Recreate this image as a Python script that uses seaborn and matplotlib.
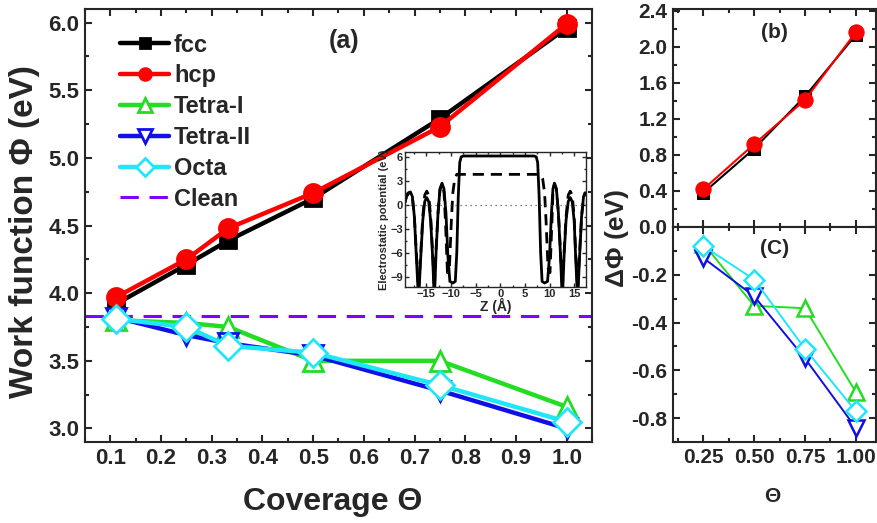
import matplotlib
matplotlib.use("Agg")
import matplotlib.pyplot as plt
import seaborn as sns
from matplotlib.ticker import MultipleLocator

# main panel (a): work function vs coverage
coverage = [0.111, 0.25, 0.333, 0.5, 0.75, 1.0]
wf_fcc = [3.92, 4.21, 4.39, 4.70, 5.29, 5.96]
wf_hcp = [3.97, 4.25, 4.48, 4.74, 5.23, 5.99]
wf_tetra1 = [3.80, 3.78, 3.75, 3.50, 3.50, 3.16]
wf_tetra2 = [3.82, 3.69, 3.63, 3.54, 3.28, 3.00]
wf_octa = [3.81, 3.75, 3.61, 3.56, 3.32, 3.05]
wf_clean = 3.83

# panels (b) and (c): change of work function
cov_sub = [0.25, 0.5, 0.75, 1.0]
d_fcc = [0.38, 0.87, 1.45, 2.13]
d_hcp = [0.42, 0.92, 1.41, 2.16]
d_tetra1 = [-0.07, -0.33, -0.34, -0.69]
d_tetra2 = [-0.13, -0.29, -0.55, -0.84]
d_octa = [-0.08, -0.22, -0.51, -0.77]

# inset: electrostatic potential along z
z_solid = [-19.3, -19.0, -18.6, -18.2, -17.8, -17.4, -17.0, -16.55, -16.1, -15.7,
           -15.3, -14.9, -14.5, -14.1, -13.7, -13.35, -13.0, -12.6, -12.2, -11.8,
           -11.4, -11.0, -10.6, -10.2, -9.6, -9.1, -8.8, -8.5, -8.2, -7.9,
           -7.5, 6.9, 7.3, 7.6, 7.9, 8.2, 8.5, 9.0, 9.6, 10.0,
           10.4, 10.7, 11.0, 11.4, 11.8, 12.2, 12.6, 12.95, 13.35, 13.8,
           14.2, 14.6, 15.0, 15.3, 15.7, 16.1, 16.5, 16.9, 17.2, 17.4]
v_solid = [0.3, 1.1, 1.5, 1.6, 1.0, -1.5, -6.5, -12, -6.5, -2.0,
           0.4, 0.9, 0.4, -2.0, -6.5, -12, -6.0, -1.0, 2.0, 2.7,
           2.0, -1.0, -6.5, -9.6, -9.8, -9.6, -6, 1, 5.3, 6.0,
           6.1, 6.1, 6.0, 5.3, 1, -6, -9.6, -9.8, -9.6, -6.5,
           -1.0, 2.0, 2.7, 2.0, -1.0, -6.0, -12, -6.5, -2.0, 0.4,
           0.9, 0.4, -2.0, -6.5, -12, -6.5, -1.5, 1.0, 1.5, 1.4]
z_dash = [-19.3, -19.0, -18.6, -18.2, -17.8, -17.4, -17.0, -16.55, -16.1, -15.7,
          -15.3, -14.9, -14.5, -14.1, -13.7, -13.35, -13.0, -12.6, -12.2, -11.8,
          -11.4, -11.1, -10.7, -10.3, -9.9, -9.6, -9.2, -8.8, 8.2, 8.6,
          9.0, 9.3, 9.7, 10.1, 10.5, 10.7, 11.0, 11.4, 11.8, 12.2,
          12.6, 12.95, 13.35, 13.8, 14.2, 14.6, 15.0, 15.3, 15.7, 16.1,
          16.5, 16.9, 17.2, 17.4]
v_dash = [0.3, 1.0, 1.4, 1.5, 0.9, -1.5, -6.0, -10.5, -6.0, -1.5,
          1.2, 1.7, 1.2, -1.5, -6.0, -10.5, -5.5, -1.0, 1.9, 2.6,
          1.6, -2.0, -8.5, -8.0, -2.0, 1.5, 3.3, 3.8, 3.8, 3.3,
          1.5, -2.0, -8.0, -8.5, -2.0, 1.6, 2.6, 1.9, -1.0, -5.5,
          -10.5, -6.0, -1.5, 1.2, 1.7, 1.2, -1.5, -6.0, -10.5, -6.0,
          -1.5, 0.9, 1.4, 1.3]

GREEN = "#22dd22"
BLUE = "#1010e6"
CYAN = "#20e6f8"
VIOLET = "#8000ff"

sns.set_style("ticks")
plt.rcParams["font.family"] = ["Liberation Sans", "DejaVu Sans"]
plt.rcParams["font.weight"] = "bold"
plt.rcParams["axes.labelweight"] = "bold"


def style_axes(ax, size, lw=1.5):
    for s in ax.spines.values():
        s.set_linewidth(lw)
        s.set_visible(True)
    ax.tick_params(which="both", direction="in", top=True, right=True,
                   labelsize=size, width=lw, pad=4)
    ax.tick_params(which="major", length=5)
    ax.tick_params(which="minor", length=3)


fig = plt.figure(figsize=(8.78, 5.23), dpi=100)
W, H = 878.0, 523.0
ax = fig.add_axes([85 / W, 1 - 442 / H, 507 / W, 433 / H])

line_kw = dict(lw=3.2, markeredgewidth=2.0)
ax.axhline(wf_clean, color=VIOLET, lw=2.2, dashes=(6, 3.5), label="Clean", zorder=1)
sns.lineplot(x=coverage, y=wf_fcc, ax=ax, color="black", marker="s", markersize=11,
             markerfacecolor="black", markeredgecolor="black", label="fcc", zorder=3, **line_kw)
sns.lineplot(x=coverage, y=wf_hcp, ax=ax, color="red", marker="o", markersize=13,
             markerfacecolor="red", markeredgecolor="red", label="hcp", zorder=4, **line_kw)
sns.lineplot(x=coverage, y=wf_tetra1, ax=ax, color=GREEN, marker="^", markersize=15,
             markerfacecolor="white", markeredgecolor=GREEN, label="Tetra-I", zorder=3, **line_kw)
sns.lineplot(x=coverage, y=wf_tetra2, ax=ax, color=BLUE, marker="v", markersize=15,
             markerfacecolor="white", markeredgecolor=BLUE, label="Tetra-II", zorder=4, **line_kw)
sns.lineplot(x=coverage, y=wf_octa, ax=ax, color=CYAN, marker="D", markersize=14,
             markerfacecolor="white", markeredgecolor=CYAN, label="Octa", zorder=5, **line_kw)

ax.set_xlim(0.05, 1.05)
ax.set_ylim(2.9, 6.1)
ax.xaxis.set_major_locator(MultipleLocator(0.1))
ax.xaxis.set_minor_locator(MultipleLocator(0.05))
ax.yaxis.set_major_locator(MultipleLocator(0.5))
ax.yaxis.set_minor_locator(MultipleLocator(0.25))
style_axes(ax, 16)
ax.set_xlabel("")
ax.set_ylabel("")
fig.text(333 / W, 1 - 502 / H, "Coverage \u0398", fontsize=23, fontweight="bold",
         ha="center", va="center")
fig.text(25 / W, 1 - 232 / H, "Work function \u03a6 (eV)", fontsize=24, fontweight="bold",
         ha="center", va="center", rotation=90)
ax.text(0.51, 0.925, "(a)", transform=ax.transAxes, fontsize=18, fontweight="bold",
        ha="center", va="center")

handles, labels = ax.get_legend_handles_labels()
order = ["fcc", "hcp", "Tetra-I", "Tetra-II", "Octa", "Clean"]
hmap = dict(zip(labels, handles))
ax.legend([hmap[k] for k in order], order, loc="upper left", bbox_to_anchor=(0.05, 0.965),
          frameon=False, fontsize=17, handlelength=2.1, handletextpad=0.2,
          labelspacing=0.33, markerscale=0.65, borderaxespad=0)

# inset
ins = fig.add_axes([405 / W, 1 - 287 / H, 181 / W, 135 / H])
ins.plot(z_solid, v_solid, color="black", lw=2.0)
ins.plot(z_dash, v_dash, color="black", lw=2.0, dashes=(4, 2.5))
ins.axhline(0, color="#555555", lw=0.9, ls=(0, (1, 3)))
ins.set_xlim(-19.3, 17.4)
ins.set_ylim(-10.3, 6.6)
ins.xaxis.set_major_locator(MultipleLocator(5))
ins.xaxis.set_minor_locator(MultipleLocator(2.5))
ins.yaxis.set_major_locator(MultipleLocator(3))
ins.yaxis.set_minor_locator(MultipleLocator(1.5))
style_axes(ins, 8, lw=1.0)
ins.tick_params(which="major", length=3, pad=1.5)
ins.tick_params(which="minor", length=1.5)
ins.set_xlabel("Z (\u00c5)", fontsize=10, labelpad=-1)
ins.set_ylabel("Electrostatic potential (eV)", fontsize=8, labelpad=1)

# panel (b)
axb = fig.add_axes([673 / W, 1 - 227 / H, 203 / W, 218 / H])
sns.lineplot(x=cov_sub, y=d_fcc, ax=axb, color="black", marker="s", markersize=9,
             markerfacecolor="black", markeredgecolor="black", lw=1.5)
sns.lineplot(x=cov_sub, y=d_hcp, ax=axb, color="red", marker="o", markersize=11,
             markerfacecolor="red", markeredgecolor="red", lw=1.5)
axb.set_xlim(0.1, 1.1)
axb.set_ylim(0.0, 2.42)
axb.xaxis.set_major_locator(MultipleLocator(0.25))
axb.xaxis.set_minor_locator(MultipleLocator(0.125))
axb.yaxis.set_major_locator(MultipleLocator(0.4))
axb.yaxis.set_minor_locator(MultipleLocator(0.2))
style_axes(axb, 15)
axb.tick_params(labelbottom=False)
axb.set_yticks([0.4, 0.8, 1.2, 1.6, 2.0, 2.4])
axb.set_yticklabels(["0.4", "0.8", "1.2", "1.6", "2.0", "2.4"])
axb.text(0.5, 0.89, "(b)", transform=axb.transAxes, fontsize=15, fontweight="bold",
         ha="center", va="center")

# panel (c)
axc = fig.add_axes([673 / W, 1 - 442 / H, 203 / W, 215 / H])
sns.lineplot(x=cov_sub, y=d_tetra1, ax=axc, color=GREEN, marker="^", markersize=11,
             markerfacecolor="white", markeredgecolor=GREEN, markeredgewidth=1.8, lw=1.4)
sns.lineplot(x=cov_sub, y=d_tetra2, ax=axc, color=BLUE, marker="v", markersize=11,
             markerfacecolor="white", markeredgecolor=BLUE, markeredgewidth=1.8, lw=1.4)
sns.lineplot(x=cov_sub, y=d_octa, ax=axc, color=CYAN, marker="D", markersize=10,
             markerfacecolor="white", markeredgecolor=CYAN, markeredgewidth=1.8, lw=1.4)
axc.set_xlim(0.1, 1.1)
axc.set_ylim(-0.9, 0.0)
axc.xaxis.set_major_locator(MultipleLocator(0.25))
axc.xaxis.set_minor_locator(MultipleLocator(0.125))
axc.yaxis.set_major_locator(MultipleLocator(0.2))
axc.yaxis.set_minor_locator(MultipleLocator(0.1))
style_axes(axc, 15)
axc.set_xticks([0.25, 0.5, 0.75, 1.0])
axc.set_xticklabels(["0.25", "0.50", "0.75", "1.00"])
axc.set_yticks([0.0, -0.2, -0.4, -0.6, -0.8])
axc.set_yticklabels(["0.0", "-0.2", "-0.4", "-0.6", "-0.8"])
axc.text(0.5, 0.9, "(C)", transform=axc.transAxes, fontsize=15, fontweight="bold",
         ha="center", va="center")

fig.text(772 / W, 1 - 497 / H, "\u0398", fontsize=15, fontweight="bold",
         ha="center", va="center")
fig.text(617 / W, 1 - 238 / H, "\u0394\u03a6 (eV)", fontsize=19, fontweight="bold",
         ha="center", va="center", rotation=90)

fig.savefig("out.png", dpi=100)
